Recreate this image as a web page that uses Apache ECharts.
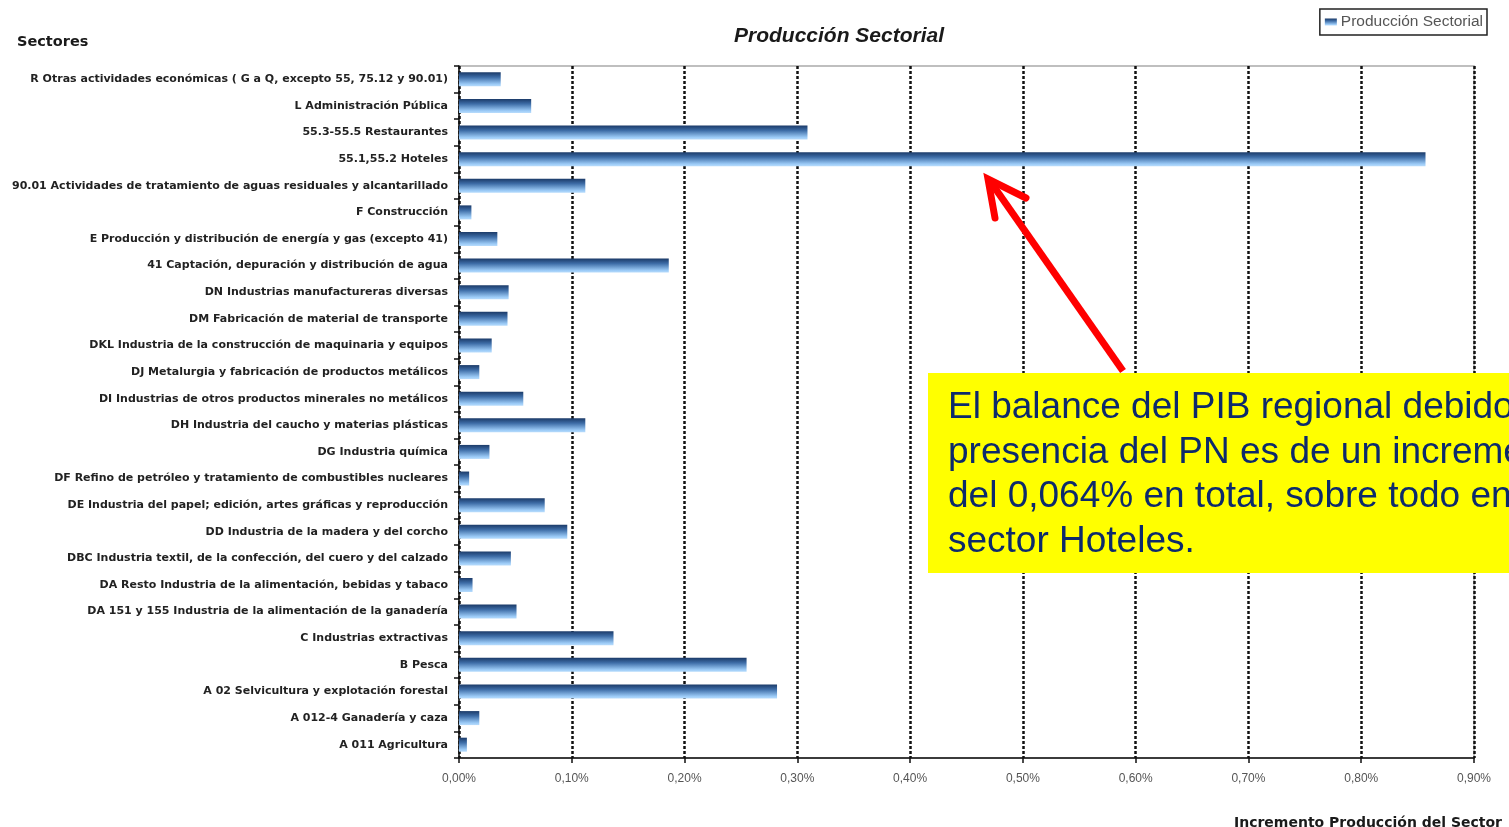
<!DOCTYPE html>
<html>
<head>
<meta charset="utf-8">
<title>Producción Sectorial</title>
<script src="https://cdn.jsdelivr.net/npm/echarts@6/dist/echarts.min.js"></script>
<style>
    html, body { margin: 0; padding: 0; background: #fff; }
    #chart { width: 1509px; height: 827px; }
</style>
</head>
<body>
<div id="chart"></div>
<script>
    // sectores, de arriba abajo
    var sectores = [
        'R Otras actividades económicas ( G a Q, excepto 55, 75.12 y 90.01)',
        'L Administración Pública',
        '55.3-55.5 Restaurantes',
        '55.1,55.2 Hoteles',
        '90.01 Actividades de tratamiento de aguas residuales y alcantarillado',
        'F Construcción',
        'E Producción y distribución de energía y gas (excepto 41)',
        '41 Captación, depuración y distribución de agua',
        'DN Industrias manufactureras diversas',
        'DM Fabricación de material de transporte',
        'DKL Industria de la construcción de maquinaria y equipos',
        'DJ Metalurgia y fabricación de productos metálicos',
        'DI Industrias de otros productos minerales no metálicos',
        'DH Industria del caucho y materias plásticas',
        'DG Industria química',
        'DF Refino de petróleo y tratamiento de combustibles nucleares',
        'DE Industria del papel; edición, artes gráficas y reproducción',
        'DD Industria de la madera y del corcho',
        'DBC Industria textil, de la confección, del cuero y del calzado',
        'DA Resto Industria de la alimentación, bebidas y tabaco',
        'DA 151 y 155 Industria de la alimentación de la ganadería',
        'C Industrias extractivas',
        'B Pesca',
        'A 02 Selvicultura y explotación forestal',
        'A 012-4 Ganadería y caza',
        'A 011 Agricultura'
    ];

    // incremento de producción (%)
    var incremento = [
        0.037, 0.064, 0.309, 0.857, 0.112, 0.011, 0.034, 0.186,
        0.044, 0.043, 0.029, 0.018, 0.057, 0.112, 0.027, 0.009,
        0.076, 0.096, 0.046, 0.012, 0.051, 0.137, 0.255, 0.282,
        0.018, 0.007
    ];

    var xMin = 0;
    var xMax = 0.9;
    var xStep = 0.1;

    var nota = [
        'El balance del PIB regional debido a la',
        'presencia del PN es de un incremento',
        'del 0,064% en total, sobre todo en el',
        'sector Hoteles.'
    ];

    var myChart = echarts.init(document.getElementById('chart'));

    var option = {
        backgroundColor: '#fff',
        animation: false,
        textStyle: {fontFamily: 'Liberation Sans, Arial, sans-serif'},
        title: [
            {
                text: 'Producción Sectorial',
                left: 729, top: 21,
                textStyle: {fontSize: 21, fontWeight: 'bold', fontStyle: 'italic', color: '#1a1a1a'}
            },
            {
                text: 'Sectores',
                left: 12, top: 30,
                textStyle: {fontSize: 14.5, fontWeight: 'bold', color: '#1a1a1a', fontFamily: 'DejaVu Sans'}
            },
            {
                text: 'Incremento Producción del Sector',
                right: 2, top: 811,
                textStyle: {fontSize: 14, fontWeight: 'bold', color: '#1a1a1a', fontFamily: 'DejaVu Sans'}
            }
        ],
        legend: {
            right: 22, top: 9,
            data: ['Producción Sectorial'],
            borderColor: '#222',
            borderWidth: 1.5,
            padding: [5, 4, 5, 5],
            itemWidth: 12, itemHeight: 7,
            itemGap: 4,
            icon: 'rect',
            textStyle: {fontSize: 15.5, color: '#555', padding: [0, 0, 0, -1]}
        },
        grid: {left: 459, right: 35, top: 66, bottom: 69, containLabel: false,
               outerBoundsMode: 'none',
               show: true, borderColor: '#aaa', borderWidth: 1.5},
        xAxis: {
            type: 'value',
            min: xMin, max: xMax, interval: xStep,
            axisLine: {show: true, lineStyle: {color: '#111', width: 1.5}},
            axisTick: {show: true, length: 5, lineStyle: {color: '#111', width: 1.5}},
            axisLabel: {
                margin: 15, fontSize: 12, color: '#555',
                formatter: function (v) { return v.toFixed(2).replace('.', ',') + '%'; }
            },
            splitLine: {show: true, lineStyle: {color: '#111', width: 2.5, type: [3, 2]}}
        },
        yAxis: {
            type: 'category',
            inverse: true,
            data: sectores,
            axisLine: {show: true, lineStyle: {color: '#111', width: 1.5}},
            axisTick: {show: true, length: 5, lineStyle: {color: '#111', width: 1.5}},
            axisLabel: {margin: 11, fontSize: 11, fontWeight: 'bold', color: '#222',
                        fontFamily: 'DejaVu Sans', interval: 0}
        },
        series: [
            {
                name: 'Producción Sectorial',
                type: 'bar',
                barWidth: 14,
                data: incremento,
                itemStyle: {
                    color: new echarts.graphic.LinearGradient(0, 0, 0, 1, [
                        {offset: 0, color: '#1b3a68'},
                        {offset: 0.35, color: '#3d6ca6'},
                        {offset: 0.85, color: '#9ccbf7'},
                        {offset: 1, color: '#b8dcfc'}
                    ])
                }
            }
        ],
        graphic: [
            {
                type: 'rect',
                shape: {x: 928, y: 373, width: 600, height: 200},
                style: {fill: '#ffff00'},
                z: 100
            },
            {
                type: 'text',
                x: 948, y: 386,
                style: {
                    text: nota.join('\n'),
                    font: '37px "Liberation Sans", Arial, sans-serif',
                    lineHeight: 44.5,
                    fill: '#0d2a6b'
                },
                z: 101
            },
            {
                type: 'line',
                shape: {x1: 1123, y1: 371, x2: 990, y2: 181},
                style: {stroke: '#ff0000', lineWidth: 7},
                z: 102
            },
            {
                type: 'polyline',
                shape: {points: [[995, 218], [988, 179], [1026, 198]]},
                style: {stroke: '#ff0000', lineWidth: 7, lineCap: 'round', lineJoin: 'miter', fill: null},
                z: 102
            }
        ]
    };

    myChart.setOption(option);
</script>
</body>
</html>
